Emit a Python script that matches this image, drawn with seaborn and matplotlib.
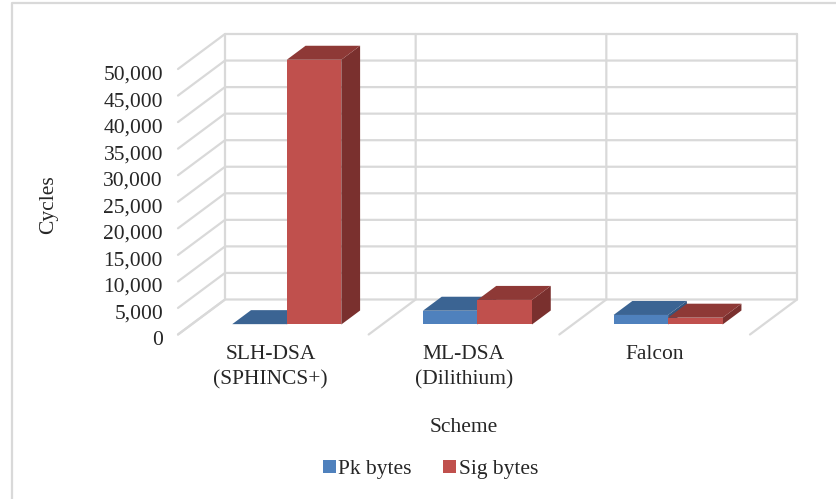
import matplotlib
matplotlib.use("Agg")
import matplotlib.pyplot as plt
from matplotlib.lines import Line2D
from matplotlib.patches import Polygon, Rectangle
from matplotlib.ticker import FuncFormatter
from matplotlib.transforms import Affine2D
import pandas as pd
import seaborn as sns

# Signature scheme sizes
schemes = ["SLH-DSA\n(SPHINCS+)", "ML-DSA\n(Dilithium)", "Falcon"]
pk_bytes = [64, 2592, 1793]
sig_bytes = [49856, 4627, 1280]
series_names = ["Pk bytes", "Sig bytes"]
y_ticks = list(range(0, 50001, 5000))

FRONT = ["#4F81BD", "#C0504D"]
TOP = ["#3B6493", "#8E3936"]
SIDE = ["#335680", "#7A302E"]
GRID = "#D9D9D9"
TEXT = "#262626"
FONT_SIZE = 15.5

sns.set_theme(style="white")
plt.rcParams["font.family"] = ["Liberation Serif", "DejaVu Serif"]
plt.rcParams["text.color"] = TEXT

W, H = 837, 499
fig = plt.figure(figsize=(W / 100, H / 100), dpi=100, facecolor="white")

# The axes rectangle is the front edge of the chart floor
left, right, base, top = 178, 750, 334.5, 69
ax = fig.add_axes([left / W, 1 - base / H, (right - left) / W, (base - top) / H])
ax.set_xlim(-0.5, 2.5)
ax.set_ylim(0, 50000)
ax.patch.set_alpha(0)
sns.despine(ax=ax, left=True, bottom=True)

# One unit of depth, in data units
DEPTH_X = 47 / ((right - left) / 3)
DEPTH_Y = 35 / (base - top) * 50000


def project(x, y, depth):
    return (x + depth * DEPTH_X, y + depth * DEPTH_Y)


# Back wall, side wall and floor
line_style = dict(color=GRID, lw=1.6, clip_on=False, zorder=0.5, solid_capstyle="round")
for v in y_ticks:
    p0, p1, p2 = project(-0.5, v, 0), project(-0.5, v, 1), project(2.5, v, 1)
    ax.plot([p0[0], p1[0], p2[0]], [p0[1], p1[1], p2[1]], **line_style)
for k in range(4):
    p0, p1, p2 = project(k - 0.5, 0, 0), project(k - 0.5, 0, 1), project(k - 0.5, 50000, 1)
    ax.plot([p0[0], p1[0], p2[0]], [p0[1], p1[1], p2[1]], **line_style)

df = pd.DataFrame({
    "scheme": schemes * 2,
    "series": [series_names[0]] * 3 + [series_names[1]] * 3,
    "value": pk_bytes + sig_bytes,
})
sns.barplot(
    data=df, x="scheme", y="value", hue="series", order=schemes,
    hue_order=series_names, palette=FRONT, saturation=1, width=0.572,
    gap=0, legend=False, ax=ax,
)
ax.set_xlim(-0.5, 2.5)
ax.set_ylim(0, 50000)

# Extrude each front face into the floor depth
NEAR, FAR = 0.286, 0.686
for s, container in enumerate(ax.containers):
    for bar in container:
        x0, x1, h = bar.get_x(), bar.get_x() + bar.get_width(), bar.get_height()
        bar.set_x(x0 + NEAR * DEPTH_X)
        bar.set_y(NEAR * DEPTH_Y)
        bar.set_zorder(2.5 + s)
        bar.set_linewidth(0)
        bar.set_clip_on(False)
        top_face = [project(x0, h, NEAR), project(x1, h, NEAR), project(x1, h, FAR), project(x0, h, FAR)]
        side_face = [project(x1, 0, NEAR), project(x1, h, NEAR), project(x1, h, FAR), project(x1, 0, FAR)]
        ax.add_patch(Polygon(side_face, closed=True, fc=SIDE[s], lw=0, zorder=2 + s, clip_on=False))
        ax.add_patch(Polygon(top_face, closed=True, fc=TOP[s], lw=0, zorder=2 + s, clip_on=False))

ax.set_yticks(y_ticks)
ax.yaxis.set_major_formatter(FuncFormatter(lambda v, _: f"{int(v):,}"))
ax.tick_params(axis="y", length=0, pad=10.8, labelsize=FONT_SIZE, labelcolor=TEXT)
ax.tick_params(axis="x", length=0, pad=7.5, labelsize=FONT_SIZE, labelcolor=TEXT)

# Value labels sit slightly below their gridlines
for lab in ax.get_yticklabels():
    lab.set_transform(lab.get_transform() + Affine2D().translate(0, -3.5))
for lab, shift in zip(ax.get_xticklabels(), [-3, 0, 0]):
    lab.set_linespacing(1.42)
    lab.set_transform(lab.get_transform() + Affine2D().translate(shift, 0))

ax.set_xlabel("Scheme", fontsize=FONT_SIZE, color=TEXT)
ax.set_ylabel("Cycles", fontsize=FONT_SIZE, color=TEXT)
ax.xaxis.set_label_coords((463.5 - left) / (right - left), (base - 428) / (base - top), ax.transAxes)
ax.xaxis.label.set_verticalalignment("center")
ax.yaxis.set_label_coords((49 - left) / (right - left), (base - 205) / (base - top), ax.transAxes)
ax.yaxis.label.set_verticalalignment("center")

handles = [Rectangle((0, 0), 1, 1, fc=c, lw=0) for c in FRONT]
fig.legend(
    handles, series_names, loc="center", bbox_to_anchor=(430.5 / W, 1 - 469.5 / H),
    ncol=2, frameon=False, fontsize=FONT_SIZE, handlelength=0.6, handleheight=0.6,
    handletextpad=0.12, columnspacing=1.45,
)

# Chart border: only the top and left edges fall inside the frame
fig.add_artist(Line2D([12 / W, 12 / W, 1], [0, 1 - 3 / H, 1 - 3 / H],
                      transform=fig.transFigure, color=GRID, lw=1.6))

fig.savefig("out.png", dpi=100)
